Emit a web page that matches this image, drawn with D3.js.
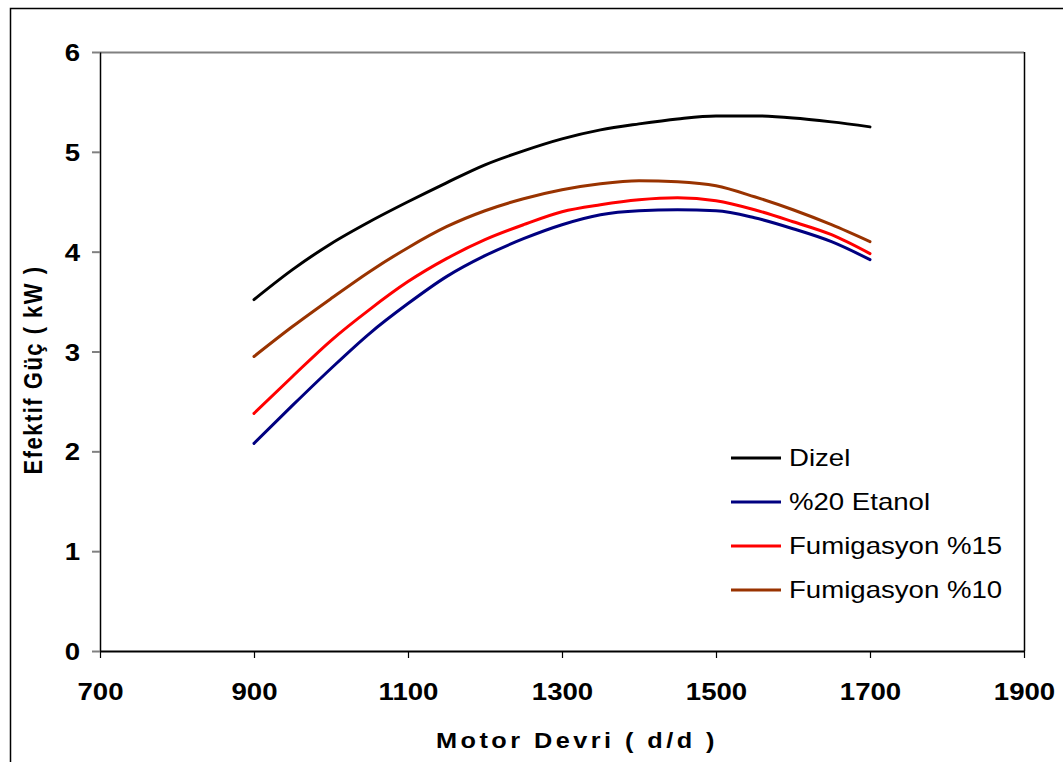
<!DOCTYPE html>
<html>
    <head>
        <meta charset="utf-8">
        <title>Efektif Güç</title>
        <style type="text/css">
            body {
                margin: 0;
                background-color: #ffffff;
            }
            svg {
                display: block;
                font-family: "Liberation Sans", Arial, sans-serif;
            }
            .tick text {
                font-size: 24px;
                font-weight: bold;
                fill: #000;
            }
            .title {
                font-size: 22px;
                font-weight: bold;
            }
            .legend text {
                font-size: 23px;
            }
        </style>
        <script src="https://d3js.org/d3.v7.min.js"></script>
    </head>
    <body>
        <svg id="chart" width="1063" height="762"></svg>
        <script>
            // motor speed (d/d)
            const rpm = [900, 950, 1000, 1050, 1100, 1150, 1200, 1250, 1300, 1350, 1400, 1450, 1500, 1550, 1600, 1650, 1700];

            // effective power (kW)
            const dizel   = [3.52, 3.82, 4.08, 4.30, 4.50, 4.69, 4.87, 5.01, 5.13, 5.22, 5.28, 5.33, 5.36, 5.36, 5.34, 5.30, 5.25];
            const etanol20 = [2.08, 2.46, 2.83, 3.18, 3.48, 3.75, 3.96, 4.13, 4.27, 4.37, 4.41, 4.42, 4.41, 4.34, 4.23, 4.10, 3.92];
            const fum15   = [2.38, 2.75, 3.11, 3.42, 3.70, 3.93, 4.12, 4.27, 4.40, 4.47, 4.52, 4.54, 4.51, 4.42, 4.30, 4.17, 3.98];
            const fum10   = [2.95, 3.25, 3.53, 3.80, 4.04, 4.25, 4.41, 4.53, 4.62, 4.68, 4.71, 4.70, 4.66, 4.55, 4.42, 4.27, 4.10];

            const seriesNames = ["Dizel", "%20 Etanol", "Fumigasyon %15", "Fumigasyon %10"];
            const seriesValues = [dizel, etanol20, fum15, fum10];
            const seriesColours = ["#000000", "#000080", "#ff0000", "#993300"];

            const xTicks = [700, 900, 1100, 1300, 1500, 1700, 1900];
            const yTicks = [0, 1, 2, 3, 4, 5, 6];

            const svg = d3.select("#chart");
            const plotLeft = 100, plotRight = 1024, plotTop = 52, plotBottom = 651;
            const stretch = 1.15;

            const x = d3.scaleLinear().domain([700, 1900]).range([plotLeft, plotRight]);
            const y = d3.scaleLinear().domain([0, 6]).range([plotBottom, plotTop]);

            // outer chart frame, runs past the right and bottom edge
            svg.append("rect")
                .attr("x", 10.5)
                .attr("y", 8.5)
                .attr("width", 1100)
                .attr("height", 800)
                .attr("fill", "none")
                .attr("stroke", "#000")
                .attr("stroke-width", 1.5);

            // plot area border: grey top, black right
            svg.append("line")
                .attr("x1", plotLeft).attr("x2", plotRight)
                .attr("y1", plotTop + 0.5).attr("y2", plotTop + 0.5)
                .attr("stroke", "#808080").attr("stroke-width", 2);
            svg.append("line")
                .attr("x1", plotRight + 0.5).attr("x2", plotRight + 0.5)
                .attr("y1", plotTop).attr("y2", plotBottom)
                .attr("stroke", "#000").attr("stroke-width", 1.5);

            // x axis
            const gx = svg.append("g")
                .attr("transform", `translate(0,${plotBottom})`)
                .call(d3.axisBottom(x).tickValues(xTicks).tickFormat(d3.format("d"))
                    .tickSize(7).tickPadding(0).tickSizeOuter(0));
            gx.select(".domain").attr("stroke", "#000").attr("stroke-width", 2);
            gx.selectAll(".tick line").attr("stroke", "#000").attr("stroke-width", 1.2);
            gx.selectAll(".tick text")
                .attr("y", 0).attr("dy", 0)
                .attr("transform", `translate(0,49) scale(${stretch},1)`);

            // y axis
            const gy = svg.append("g")
                .attr("transform", `translate(${plotLeft},0)`)
                .call(d3.axisLeft(y).tickValues(yTicks).tickFormat(d3.format("d"))
                    .tickSize(8).tickPadding(0).tickSizeOuter(0));
            gy.select(".domain").attr("stroke", "#000").attr("stroke-width", 1.5);
            gy.selectAll(".tick line").attr("stroke", "#808080").attr("stroke-width", 2);
            gy.selectAll(".tick text")
                .attr("x", 0).attr("dy", "0.36em")
                .attr("transform", `translate(-20,0) scale(${stretch},1)`);

            // series lines
            const line = d3.line()
                .x((d, i) => x(rpm[i]))
                .y(d => y(d))
                .curve(d3.curveMonotoneX);

            svg.append("g")
                .selectAll("path")
                .data(seriesValues)
                .join("path")
                .attr("d", line)
                .attr("fill", "none")
                .attr("stroke", (d, i) => seriesColours[i])
                .attr("stroke-width", 3)
                .attr("stroke-linejoin", "round")
                .attr("stroke-linecap", "round");

            // legend
            const legend = svg.append("g").attr("class", "legend");
            const rows = legend.selectAll("g")
                .data(seriesNames)
                .join("g")
                .attr("transform", (d, i) => `translate(731,${458 + i * 44})`);
            rows.append("line")
                .attr("x1", 0).attr("x2", 50)
                .attr("y1", 0).attr("y2", 0)
                .attr("stroke", (d, i) => seriesColours[i])
                .attr("stroke-width", 3);
            rows.append("text")
                .attr("transform", "translate(58,8) scale(1.2,1)")
                .text(d => d);

            // axis titles
            svg.append("text")
                .attr("class", "title")
                .attr("text-anchor", "middle")
                .attr("transform", `translate(577,748) scale(${stretch},1)`)
                .attr("letter-spacing", "3px")
                .text("Motor Devri ( d/d )");

            svg.append("text")
                .attr("class", "title")
                .attr("text-anchor", "middle")
                .attr("transform", `translate(42,370) scale(${stretch},1) rotate(-90)`)
                .attr("letter-spacing", "1.5px")
                .text("Efektif Güç ( kW )");
        </script>
    </body>
</html>
